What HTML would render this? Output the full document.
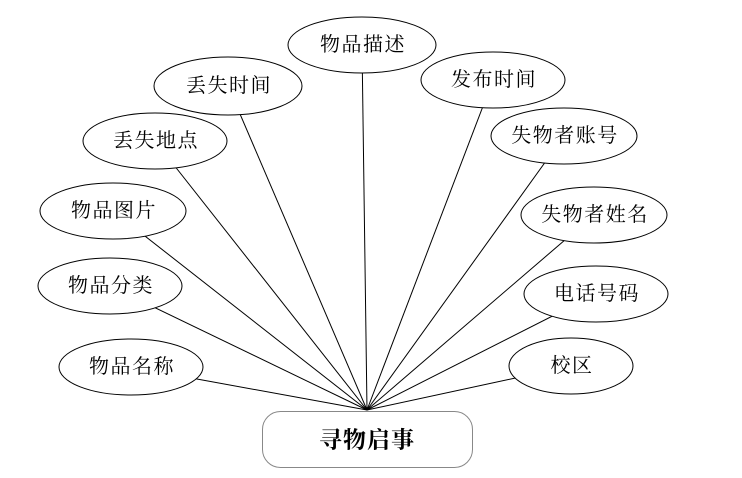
<!DOCTYPE html>
<html><head><meta charset="utf-8"><style>
html,body{margin:0;padding:0;background:#fff;}
svg{display:block;}
text{font-family:"Liberation Serif","Noto Serif CJK SC","Noto Sans CJK SC",serif;font-size:20px;letter-spacing:1.5px;fill:#000;text-anchor:middle;dominant-baseline:central;}
</style></head><body>
<svg width="742" height="478" viewBox="0 0 742 478" xmlns="http://www.w3.org/2000/svg">
<g stroke="#000" stroke-width="1">
<line x1="367" y1="410" x2="362" y2="45"/>
<line x1="367" y1="410" x2="228" y2="86"/>
<line x1="367" y1="410" x2="493" y2="80"/>
<line x1="367" y1="410" x2="155" y2="141"/>
<line x1="367" y1="410" x2="564" y2="136"/>
<line x1="367" y1="410" x2="113" y2="211"/>
<line x1="367" y1="410" x2="594" y2="215"/>
<line x1="367" y1="410" x2="110" y2="286"/>
<line x1="367" y1="410" x2="596" y2="294"/>
<line x1="367" y1="410" x2="131" y2="367"/>
<line x1="367" y1="410" x2="571" y2="366"/>
</g>
<g fill="#fff" stroke="#000" stroke-width="1">
<ellipse cx="362" cy="45" rx="74" ry="28"/>
<ellipse cx="228" cy="86" rx="74" ry="29"/>
<ellipse cx="493" cy="80" rx="72" ry="28"/>
<ellipse cx="155" cy="141" rx="72" ry="28"/>
<ellipse cx="564" cy="136" rx="73" ry="28"/>
<ellipse cx="113" cy="211" rx="73" ry="28"/>
<ellipse cx="594" cy="215" rx="73" ry="28"/>
<ellipse cx="110" cy="286" rx="72" ry="28"/>
<ellipse cx="596" cy="294" rx="72" ry="28"/>
<ellipse cx="131" cy="367" rx="72" ry="28"/>
<ellipse cx="571" cy="366" rx="62" ry="28"/>
</g>
<rect x="262.5" y="411.5" width="210" height="56" rx="18" fill="#fff" stroke="#888" stroke-width="1"/>
<text x="363" y="45">物品描述</text>
<text x="229" y="86">丢失时间</text>
<text x="494" y="80">发布时间</text>
<text x="156" y="141">丢失地点</text>
<text x="565" y="136">失物者账号</text>
<text x="114" y="211">物品图片</text>
<text x="595" y="215">失物者姓名</text>
<text x="111" y="286">物品分类</text>
<text x="597" y="294">电话号码</text>
<text x="132" y="367">物品名称</text>
<text x="572" y="366">校区</text>
<text x="367" y="440" style="font-size:23px;font-weight:bold;letter-spacing:1px">寻物启事</text>
</svg>
</body></html>
